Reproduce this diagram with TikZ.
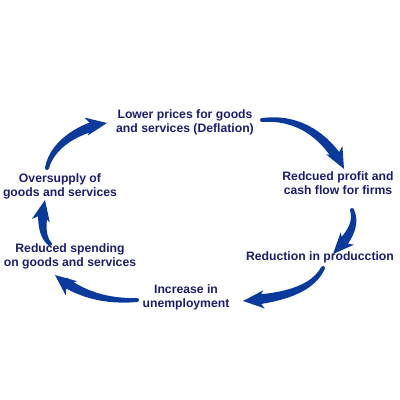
\documentclass[tikz,border=0pt]{standalone}
\usepackage{fontspec}
\setmainfont{Liberation Sans}
\usetikzlibrary{arrows.meta,calc}
\definecolor{txt}{HTML}{1C1C6E}
\definecolor{arr}{HTML}{0A3A9C}
\tikzset{
  lbl/.style={font=\bfseries\fontsize{12.2}{14}\selectfont, text=txt, align=center, inner sep=0pt},
  cyc/.style={draw=arr, line width=2pt, -{Stealth[length=21pt,width=18pt,inset=6pt]}}
}
% #1 prefix, #2 start, #3 c1, #4 c2, #5 end, #6 pos where the shaft ends
\newcommand\cyclearrow[6]{%
  \path (#2) .. controls #3 and #4 .. (#5)
    foreach \i in {0,...,13}{ coordinate[pos={#6*\i/12}] (#1-\i) };
  \foreach \i in {0,...,12}{%
    \pgfmathtruncatemacro\jj{\i+1}%
    \pgfmathsetmacro\ww{2+2.9*\i/12}%
    \coordinate (#1L-\i) at ($(#1-\i)!\ww pt!90:(#1-\jj)$);
    \coordinate (#1R-\i) at ($(#1-\i)!\ww pt!-90:(#1-\jj)$);
  }
  \fill[arr] (#1L-0) foreach \i in {1,...,12}{ -- (#1L-\i) }
     foreach \i in {12,...,0}{ -- (#1R-\i) } -- cycle;
  \fill[arr] (#1-0) circle (2pt);
  \draw[cyc] (#2) .. controls #3 and #4 .. (#5);
}
\begin{document}
\begin{tikzpicture}[x=1pt,y=-1pt]
\useasboundingbox (0,0) rectangle (400,400);
\node[lbl] (lp) at (185,122) {Lower prices for goods\\and services (Deflation)};
\node[lbl] (rp) at (338,183) {Redcued profit and\\cash flow for firms};
\node[lbl] (rd) at (320,257) {Reduction in producction};
\node[lbl] (iu) at (186,297) {Increase in\\unemployment};
\node[lbl] (rs) at (70,256) {Reduced spending\\on goods and services};
\node[lbl] (os) at (60,186) {Oversupply of\\goods and services};
\coordinate (a1s) at (47,168); \coordinate (a1e) at (107,123);
\coordinate (a2s) at (262,120); \coordinate (a2e) at (344,169);
\coordinate (a3s) at (352,210); \coordinate (a3e) at (333,254);
\coordinate (a4s) at (323,268); \coordinate (a4e) at (243,301);
\coordinate (a5s) at (137,300); \coordinate (a5e) at (55,275);
\coordinate (a6s) at (50,244); \coordinate (a6e) at (45,200);
\cyclearrow{pa}{a1s}{(52,145)}{(78,128)}{a1e}{0.84}
\cyclearrow{pb}{a2s}{(300,116)}{(328,138)}{a2e}{0.87}
\cyclearrow{pc}{a3s}{(358,226)}{(346,240)}{a3e}{0.74}
\cyclearrow{pd}{a4s}{(312,290)}{(282,298)}{a4e}{0.86}
\cyclearrow{pe}{a5s}{(102,302)}{(76,292)}{a5e}{0.86}
\cyclearrow{pf}{a6s}{(40,235)}{(42,215)}{a6e}{0.72}
\end{tikzpicture}
\end{document}
